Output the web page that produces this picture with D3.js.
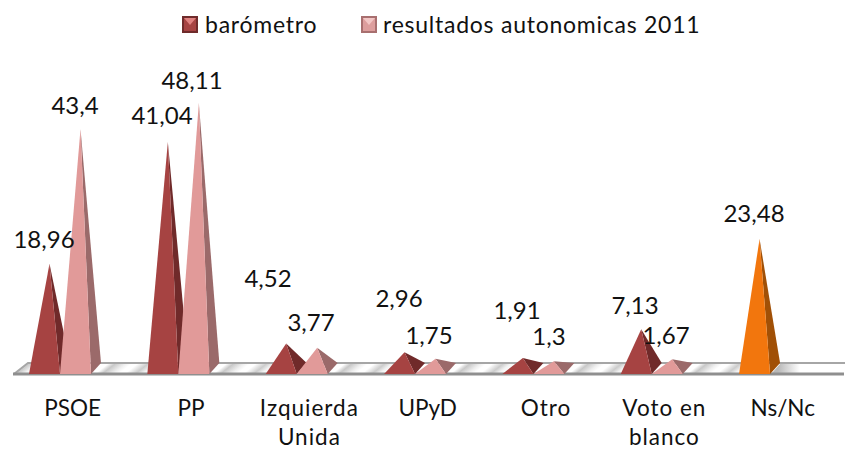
<!DOCTYPE html>
<html><head><meta charset="utf-8">
<style>html,body{margin:0;padding:0;background:#fff}svg{display:block}text{font-family:Lato,"Open Sans",sans-serif;fill:#111}</style>
<script src="https://cdn.jsdelivr.net/npm/d3@7/dist/d3.min.js"></script></head><body>
<script>
const categories=[["PSOE"],["PP"],["Izquierda","Unida"],["UPyD"],["Otro"],["Voto en","blanco"],["Ns/Nc"]];
const barometro=[18.96,41.04,4.52,2.96,1.91,7.13,23.48];
const autonomicas=[43.4,48.11,3.77,1.75,1.3,1.67,null];
const seriesNames=["barómetro","resultados autonomicas 2011"];
const W=845,H=450,floorY=374,depthX=10,depthY=11,barW=31;
const svg=d3.select("body").append("svg").attr("width",W).attr("height",H);
const x=d3.scaleBand().domain(d3.range(7)).range([-1,827.4]).paddingInner(0);
const y=d3.scaleLinear().domain([0,50]).range([floorY-depthY/2,floorY-depthY/2-276]);
const defs=svg.append("defs");
const g=defs.append("linearGradient").attr("id","fl").attr("spreadMethod","repeat").attr("gradientUnits","userSpaceOnUse")
 .attr("x1",102).attr("y1",374).attr("x2",147.2).attr("y2",431.5);
[[0,"#c8c8c8"],[.09,"#f0f0f0"],[.14,"#fff"],[.19,"#fff"],[.28,"#cccccc"],[.34,"#f2f2f2"],[.4,"#fff"],[.94,"#fff"],[1,"#c8c8c8"]].forEach(d=>g.append("stop").attr("offset",d[0]).attr("stop-color",d[1]));
const g2=defs.append("linearGradient").attr("id","fr").attr("gradientUnits","userSpaceOnUse").attr("x1",778).attr("x2",800).attr("y1",0).attr("y2",0);
[[0,"#b8b8b8"],[1,"#fff"]].forEach(d=>g2.append("stop").attr("offset",d[0]).attr("stop-color",d[1]));
const ln=d3.line();
svg.append("path").attr("d",ln([[14,floorY],[28,floorY-depthY],[844,floorY-depthY],[844,floorY],[14,floorY]])).attr("fill","url(#fl)");
svg.append("path").attr("d",ln([[771,floorY],[781,floorY-depthY],[844,floorY-depthY],[844,floorY]])).attr("fill","url(#fr)");
svg.append("path").attr("d",ln([[14,floorY],[28,floorY-depthY],[845,floorY-depthY]])).attr("fill","none").attr("stroke","#a6a6a6").attr("stroke-width",2);
svg.append("path").attr("d",ln([[13,floorY],[844,floorY]])).attr("fill","none").attr("stroke","#8f8f8f").attr("stroke-width",3);
function pyr(sel,xl,val,front,side){
 const b=y(val),xr=xl+barW,ax=xl+barW/2+depthX/2;
 sel.append("path").attr("d",ln([[xr,floorY],[xr+depthX,floorY-depthY],[ax,b]])).attr("fill",side);
 sel.append("path").attr("d",ln([[xl,floorY],[xr,floorY],[ax,b]])).attr("fill",front);
}
const pts=[];
barometro.forEach((v,i)=>pts.push({v,i,s:0}));
autonomicas.forEach((v,i)=>{if(v!=null)pts.push({v,i,s:1})});
pts.sort((a,b)=>a.i-b.i||a.s-b.s);
const cols=[["#a64342","#702a2a"],["#e19a99","#9b6a6a"]];
pts.forEach(p=>{
 const c=p.i===6?["#f2760d","#a15006"]:cols[p.s];
 pyr(svg.append("g"),x(p.i)+30+p.s*barW,p.v,c[0],c[1]);
});
const lab0=[[44,248],[162,124],[268,287],[399,307],[517,319],[635,314],[754,222]];
const lab1=[[75,114],[192,89],[311,331],[429,344],[549,345],[666,344]];
function lbl(a,vals){vals.forEach((v,i)=>{if(v==null)return;svg.append("text").attr("x",a[i][0]).attr("y",a[i][1]).attr("text-anchor","middle").attr("font-size",24).text(String(v).replace(".",","));});}
lbl(lab0,barometro);lbl(lab1,autonomicas);
categories.forEach((c,i)=>{c.forEach((t,j)=>{svg.append("text").attr("x",x(i)+x.bandwidth()/2+14.5).attr("y",416+j*29).attr("text-anchor","middle").attr("font-size",22.5).attr("letter-spacing",/[a-z]{3}/.test(t)?1:0).text(t);});});
const lg=[[182,205],[361,383]];
seriesNames.forEach((n,i)=>{
 const lx=lg[i][0],c=i?["#dd9e9d","#a86f6f","#f2c6c5"]:["#a64342","#6f2b2b","#e08280"];
 svg.append("rect").attr("x",lx).attr("y",16).attr("width",16).attr("height",17).attr("fill",c[1]);
 svg.append("path").attr("d",ln([[lx+2,18],[lx+14,18],[lx+14,31],[lx+2,31]])).attr("fill",c[0]);
 svg.append("path").attr("d",ln([[lx+2,18],[lx+14,18],[lx+8,25]])).attr("fill",c[2]);
 svg.append("text").attr("x",lg[i][1]).attr("y",33).attr("font-size",23).attr("letter-spacing",.75).text(n);
});
</script></body></html>
